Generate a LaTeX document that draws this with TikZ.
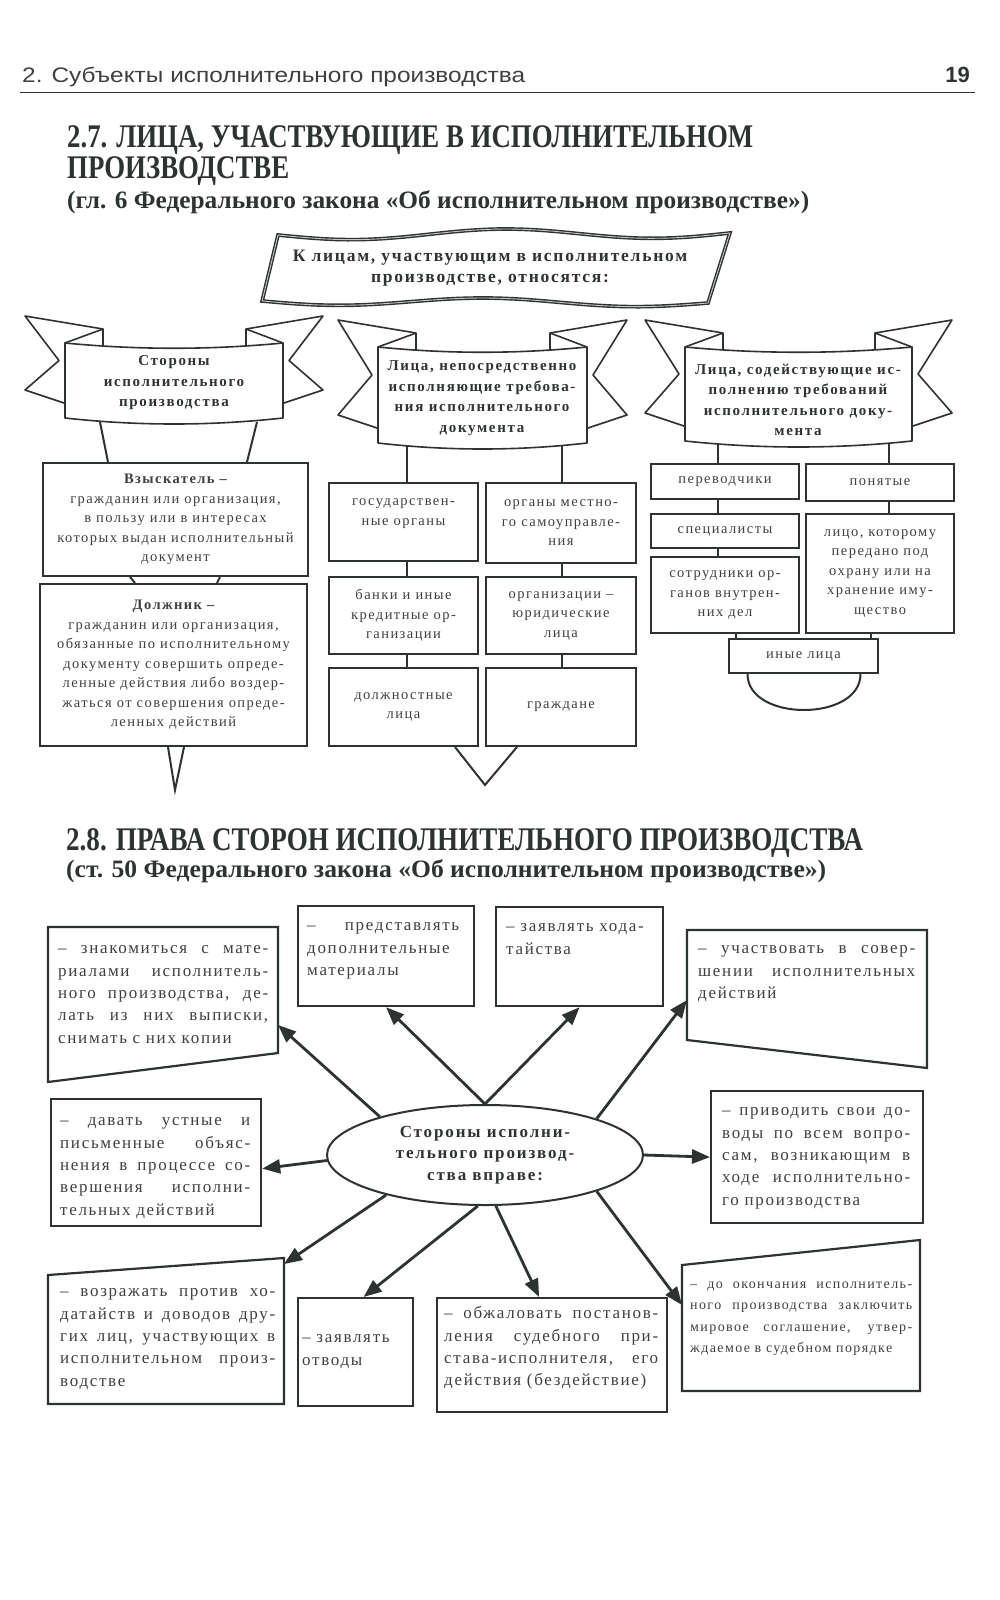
\documentclass[tikz,border=0pt]{standalone}
\usepackage{fontspec}
\setmainfont{Liberation Serif}
\newfontfamily\headfont{Liberation Sans}
\newfontfamily\boxfont[LetterSpace=10]{Liberation Serif}
\newfontfamily\widefont[LetterSpace=11]{Liberation Serif}
\newfontfamily\topfont[LetterSpace=10]{Liberation Serif}
\usepackage{graphicx}
\usetikzlibrary{shapes.geometric, arrows.meta}

\definecolor{ink}{RGB}{45,50,50}
\definecolor{txt}{RGB}{62,64,64}

% текст, растянутый по ширине
\newcommand\fitw[2]{\resizebox{#1}{\height}{#2}}
\newcommand\jl[1]{{\spaceskip=0pt\xspaceskip=0pt\makebox[\hsize][s]{#1}}}

% лента: #1 левый край, #2 правый, #3 верх, #4 низ
\newcommand\ribbon[4]{%
  \draw[band] (#1+38,#3-14) -- (#1-40,#3-27) -- (#1-6,{(#3+#4)/2-20}) -- (#1-40,#4-28) -- (#1+2,#4-14) -- (#1+38,#4-14) -- cycle;
  \draw[band] (#2-37,#3-14) -- (#2+40,#3-27) -- (#2+6,{(#3+#4)/2-20}) -- (#2+40,#4-28) -- (#2-2,#4-14) -- (#2-37,#4-14) -- cycle;
  \draw[band] (#1+38,#3-14) -- (#1,#3);
  \draw[band] (#2-37,#3-14) -- (#2,#3);
  \draw[band] (#1,#3) .. controls ({#1+(#2-#1)/3},#3+7) and ({#2-(#2-#1)/3},#3+7) .. (#2,#3)
    -- (#2,#4) .. controls ({#2-(#2-#1)/3},#4+8) and ({#1+(#2-#1)/3},#4+8) .. (#1,#4) -- cycle;
}

\begin{document}
\begin{tikzpicture}[x=1pt,y=-1pt,
  box/.style={draw=ink, line width=2pt, fill=white, inner sep=1pt, anchor=north west, align=center, text=txt, font=\boxfont\fontsize{14.5}{19.5}\selectfont},
  rbox/.style={draw=ink, line width=2.2pt, fill=white, inner sep=0pt, anchor=north west},
  quad/.style={draw=ink, line width=2.2pt, fill=white},
  txtb/.style={anchor=north west, inner sep=0pt, text width=#1, align=left, text=txt, font=\boxfont\fontsize{17}{22.3}\selectfont},
  band/.style={draw=ink, line width=1.6pt, fill=white, line join=round},
  btxt/.style={align=center, text=ink, inner sep=0pt, font=\widefont\bfseries\fontsize{15}{20.5}\selectfont},
  link/.style={draw=ink, line width=2pt},
  arr/.style={draw=ink, line width=2.8pt, -{Triangle[length=18pt,width=14pt]}},
  ttl/.style={anchor=base west, inner sep=0pt, text=ink, font=\bfseries\fontsize{33}{36}\selectfont},
  sub/.style={anchor=base west, inner sep=0pt, text=ink, font=\bfseries\fontsize{25}{28}\selectfont}]

\fill[white] (0,0) rectangle (1000,1600);
\useasboundingbox (0,0) rectangle (1000,1600);

% Колонтитул
\node[anchor=base west, inner sep=0pt, text=txt] (hdr) at (22,83) {\headfont\fontsize{21}{24}\selectfont\fitw{503pt}{2. Субъекты исполнительного производства}};
\node[anchor=base east, inner sep=0pt, text=ink] (pg) at (970,83) {\headfont\bfseries\fontsize{22}{24}\selectfont 19};
\draw[ink, line width=0.8pt] (20,92) -- (975,92);

% Заголовок 2.7
\node[ttl] (t27a) at (67,147) {\fitw{686pt}{2.7. ЛИЦА, УЧАСТВУЮЩИЕ В ИСПОЛНИТЕЛЬНОМ}};
\node[ttl] (t27b) at (67,178) {\fitw{222pt}{ПРОИЗВОДСТВЕ}};
\node[sub] (s27) at (67,208) {\fitw{742pt}{(гл. 6 Федерального закона «Об исполнительном производстве»)}};

% Волнистая плашка
\draw[draw=ink, line width=1.4pt, double=gray!45, double distance=0.9pt, fill=white]
  plot[domain=0:1, samples=40] ({278+452*\x},{235-2*\x+5*sin(540*\x)})
  -- plot[domain=1:0, samples=40] ({262+446*\x},{301+2*\x+4*sin(540*\x)}) -- cycle;
\node[align=center, text=ink, inner sep=0pt, font=\topfont\bfseries\fontsize{17.5}{21}\selectfont] (top) at (490,268)
  {К лицам, участвующим в исполнительном\\производстве, относятся:};

% Стороны
\node[box, minimum width=265pt, minimum height=113pt] (vz) at (42,462)
  {{\bfseries Взыскатель –}\\гражданин или организация,\\в пользу или в интересах\\которых выдан исполнительный\\документ};
\node[box, minimum width=267pt, minimum height=162pt] (dl) at (39,583)
  {{\bfseries Должник –}\\гражданин или организация,\\обязанные по исполнительному\\документу совершить опреде-\\ленные действия либо воздер-\\жаться от совершения опреде-\\ленных действий};
\draw[link] ([xshift=66pt]vz.north west) -- ([xshift=58pt,yshift=40pt]vz.north west);
\draw[link] ([xshift=205pt]vz.north west) -- ([xshift=215pt,yshift=40pt]vz.north west);
\draw[link] ([xshift=88pt]vz.south west) -- ([xshift=96pt]dl.north west);
\draw[link] ([xshift=178pt]vz.south west) -- ([xshift=178pt]dl.north west);
\draw[link] ([xshift=129pt]dl.south west) -- ([xshift=136pt,yshift=-43pt]dl.south west) -- ([xshift=145pt]dl.south west);

% Непосредственно исполняющие
\node[box, minimum width=149pt, minimum height=78pt] (gos) at (328,482) {государствен-\\ные органы\\\phantom{Х}};
\node[box, minimum width=150pt, minimum height=80pt] (org) at (485,482) {органы местно-\\го самоуправле-\\ния};
\node[box, minimum width=149pt, minimum height=77pt] (bank) at (328,576) {банки и иные\\кредитные ор-\\ганизации};
\node[box, minimum width=150pt, minimum height=77pt] (jur) at (485,576) {организации –\\юридические\\лица};
\node[box, minimum width=149pt, minimum height=78pt] (dlz) at (328,667) {должностные\\лица};
\node[box, minimum width=150pt, minimum height=78pt] (gr) at (485,667) {граждане};
\draw[link] ([xshift=79pt]gos.north west) -- +(0,-45);
\draw[link] ([xshift=77pt]org.north west) -- +(0,-45);
\draw[link] ([xshift=79pt]gos.south west) -- ([xshift=79pt]bank.north west);
\draw[link] ([xshift=77pt]org.south west) -- ([xshift=77pt]jur.north west);
\draw[link] ([xshift=79pt]bank.south west) -- ([xshift=79pt]dlz.north west);
\draw[link] ([xshift=77pt]jur.south west) -- ([xshift=77pt]gr.north west);
\draw[link] ([xshift=-24pt]dlz.south east) -- ([xshift=6pt,yshift=-38pt]dlz.south east) -- ([xshift=32pt]gr.south west);

% Содействующие
\node[box, minimum width=148pt, minimum height=35pt] (pv) at (650,463) {переводчики};
\node[box, minimum width=148pt, minimum height=37pt] (pn) at (805,463) {понятые};
\node[box, minimum width=148pt, minimum height=34pt] (sp) at (650,513) {специалисты};
\node[box, minimum width=148pt, minimum height=119pt] (lc) at (805,513) {лицо, которому\\передано под\\охрану или на\\хранение иму-\\щество};
\node[box, minimum width=148pt, minimum height=76pt] (st) at (650,556) {сотрудники ор-\\ганов внутрен-\\них дел};
\node[box, minimum width=149pt, minimum height=34pt] (iny) at (728,638) {иные лица};
\draw[link] ([xshift=8pt]iny.north west) -- +(0,-6);
\draw[link] ([xshift=-8pt]iny.north east) -- +(0,-6);
\draw[link] ([xshift=-56pt]iny.south) .. controls +(0,48) and +(0,48) .. ([xshift=57pt]iny.south);
\draw[link] ([xshift=68pt]pv.north west) -- +(0,-28);
\draw[link] ([xshift=84pt]pn.north west) -- +(0,-28);
\draw[link] ([xshift=68pt]pv.south west) -- ([xshift=68pt]sp.north west);
\draw[link] ([xshift=68pt]sp.south west) -- ([xshift=68pt]st.north west);
\draw[link] ([xshift=84pt]pn.south west) -- ([xshift=84pt]lc.north west);

% Ленты
\ribbon{65}{283}{343}{418}
\ribbon{378}{587}{347}{443}
\ribbon{685}{912}{347}{441}
\node[btxt] (ban1) at (174,383) {Стороны\\исполнительного\\производства};
\node[btxt] (ban2) at (482,398) {Лица, непосредственно\\исполняющие требова-\\ния исполнительного\\документа};
\node[btxt] (ban3) at (798,400) {Лица, содействующие ис-\\полнению требований\\исполнительного доку-\\мента};

% Заголовок 2.8
\node[ttl] (t28) at (66,850) {\fitw{797pt}{2.8. ПРАВА СТОРОН ИСПОЛНИТЕЛЬНОГО ПРОИЗВОДСТВА}};
\node[sub] (s28) at (66,877) {\fitw{760pt}{(ст. 50 Федерального закона «Об исполнительном производстве»)}};

% Права сторон
\draw[quad] (48,927) -- (278,927) -- (278,1053) -- (48,1082) -- cycle;
\coordinate (b1e) at (278,1025);
\node[txtb=210pt] (b1) at (58,938) {\strut\jl{– знакомиться с мате-}\\\jl{риалами исполнитель-}\\\jl{ного производства, де-}\\\jl{лать из них выписки,}\\снимать с них копии};

\node[rbox, minimum width=176pt, minimum height=100pt] (b2) at (297,905) {};
\node[txtb=152pt] (b2t) at (307,915) {\strut\jl{– представлять}\\дополнительные\\материалы};

\node[rbox, minimum width=167pt, minimum height=99pt] (b3) at (495,906) {};
\node[txtb=144pt] (b3t) at (506,916) {\strut– заявлять хода-\\тайства};

\draw[quad] (687,930) -- (927,930) -- (927,1068) -- (687,1040) -- cycle;
\coordinate (b4w) at (687,1000);
\node[txtb=217pt] (b4) at (698,938) {\strut\jl{– участвовать в совер-}\\\jl{шении исполнительных}\\действий};

\node[rbox, minimum width=210pt, minimum height=127pt] (b5) at (50,1098) {};
\node[txtb=190pt] (b5t) at (60,1110) {\strut\jl{– давать устные и}\\\jl{письменные объяс-}\\\jl{нения в процессе со-}\\\jl{вершения исполни-}\\тельных действий};

\node[rbox, minimum width=212pt, minimum height=132pt] (b6) at (710,1090) {};
\node[txtb=188pt] (b6t) at (722,1100) {\strut\jl{– приводить свои до-}\\\jl{воды по всем вопро-}\\\jl{сам, возникающим в}\\\jl{ходе исполнительно-}\\го производства};

\draw[quad] (48,1275) -- (284,1258) -- (284,1404) -- (48,1404) -- cycle;
\coordinate (b7e) at (284,1264);
\node[txtb=215pt] (b7) at (60,1281) {\strut\jl{– возражать против хо-}\\\jl{датайств и доводов дру-}\\\jl{гих лиц, участвующих в}\\\jl{исполнительном произ-}\\водстве};

\node[rbox, minimum width=115pt, minimum height=108pt] (b8) at (297,1297) {};
\node[txtb=100pt] (b8t) at (302,1327) {\strut– заявлять\\отводы};

\node[rbox, minimum width=230pt, minimum height=114pt] (b9) at (436,1297) {};
\node[txtb=214pt] (b9t) at (444,1303) {\strut\jl{– обжаловать постанов-}\\\jl{ления судебного при-}\\\jl{става-исполнителя, его}\\действия (бездействие)};

\draw[quad] (682,1265) -- (920,1240) -- (920,1391) -- (682,1391) -- cycle;
\coordinate (b10w) at (682,1305);
\node[txtb=222pt, font=\boxfont\fontsize{14}{21.5}\selectfont] (b10) at (690,1273) {\strut\jl{– до окончания исполнитель-}\\\jl{ного производства заключить}\\\jl{мировое соглашение, утвер-}\\ждаемое в судебном порядке};

% Центральный эллипс
\node[ellipse, draw=ink, line width=2pt, fill=white, inner sep=0pt, minimum width=316pt, minimum height=100pt, align=center, text=ink, font=\widefont\bfseries\fontsize{17}{21.5}\selectfont] (sides) at (485,1155)
  {Стороны исполни-\\тельного производ-\\ства вправе:};

% Стрелки
\draw[arr] (sides.160) -- (b1e);
\draw[arr] (sides.north) -- (b2.south);
\draw[arr] (sides.north) -- (b3.south);
\draw[arr] (sides.18) -- (b4w);
\draw[arr] (sides.182) -- ([yshift=-6pt]b5.east);
\draw[arr] (sides.east) -- (b6.west);
\draw[arr] (sides.202) -- (b7e);
\draw[arr] (sides.262) -- ([xshift=8pt]b8.north);
\draw[arr] (sides.282) -- ([xshift=-13pt]b9.north);
\draw[arr] (sides.342) -- (b10w);

\end{tikzpicture}
\end{document}
